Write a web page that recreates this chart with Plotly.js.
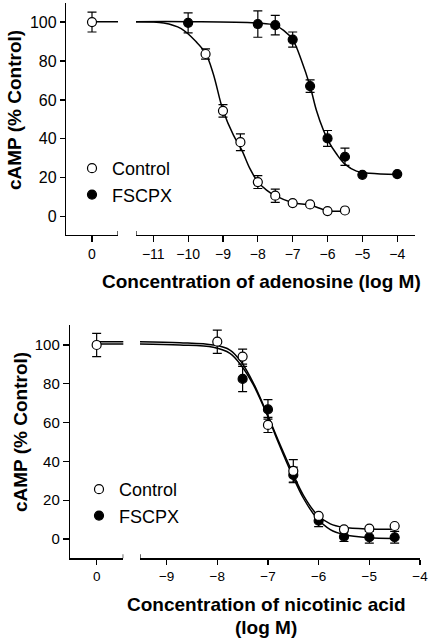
<!DOCTYPE html>
<html>
<head>
<meta charset="utf-8">
<script src="https://cdn.plot.ly/plotly-3.0.1.min.js"></script>
<style>html,body{margin:0;padding:0;background:#fff;}#chart{width:429px;height:640px;}</style>
</head>
<body>
<div id="chart"></div>
<script>
// ---------- DATA: top panel (adenosine) ----------
const adoTickVals = [-11, -10, -9, -8, -7, -6, -5, -4];
const zeroTickVals = [0];
const yTickVals = [0, 20, 40, 60, 80, 100];

const adoCtrlZeroX = [0];
const adoCtrlZeroY = [100];
const adoCtrlZeroErr = [5.1];

const adoCtrlX = [-9.5, -9, -8.5, -8, -7.5, -7, -6.5, -6, -5.5];
const adoCtrlY = [83.6, 54.4, 38.3, 17.8, 10.8, 7.0, 6.3, 2.9, 3.2];
const adoCtrlErr = [2.6, 3.2, 4.3, 3.3, 3.4, 0, 0, 0, 0];

const adoFscX = [-10, -8, -7.5, -7, -6.5, -6, -5.5, -5, -4];
const adoFscY = [99.6, 99.0, 98.4, 91.0, 67.1, 40.2, 30.8, 21.5, 21.9];
const adoFscErr = [5.1, 6.8, 5.0, 3.9, 3.2, 4.1, 4.4, 0, 0];

// fitted curves
const adoCtrlCurveX = [-11.5, -10.7, -10.2, -9.76, -9.5, -9.28, -9.0, -8.7, -8.46, -8.23, -8.0, -7.75, -7.5, -7.0, -6.5, -6.0, -5.5];
const adoCtrlCurveY = [100.2, 99.5, 96.6, 89.7, 84.0, 73.5, 54.7, 41.9, 34.2, 24.8, 17.9, 13.7, 10.8, 7.2, 6.0, 3.1, 2.9];
const adoFscCurveX = [-11.5, -10, -8, -7.5, -7.26, -7.0, -6.75, -6.5, -6.32, -6.12, -5.98, -5.74, -5.5, -5.17, -4.79, -4.0];
const adoFscCurveY = [100.2, 100.2, 99.5, 98.3, 95.7, 91.0, 80.4, 67.0, 54.7, 44.5, 39.0, 32.2, 27.0, 23.4, 22.3, 21.7];
const adoZeroLineX = [0, 1];
const adoZeroLineY = [100.2, 100.2];

// ---------- DATA: bottom panel (nicotinic acid) ----------
const nicTickVals = [-9, -8, -7, -6, -5, -4];

const nicCtrlZeroX = [0];
const nicCtrlZeroY = [100];
const nicCtrlZeroErr = [6];

const nicCtrlX = [-8, -7.5, -7, -6.5, -6, -5.5, -5, -4.5];
const nicCtrlY = [101.7, 94.0, 58.8, 35.1, 11.9, 5.0, 5.3, 6.7];
const nicCtrlErr = [6, 3.9, 3.9, 5.8, 0, 0, 0, 0];

const nicFscX = [-7.5, -7, -6.5, -6, -5.5, -5, -4.5];
const nicFscY = [82.5, 66.8, 33.0, 9.4, 1.2, 0.9, 0.9];
const nicFscErr = [6.5, 5.0, 4.0, 3.0, 2.5, 3.0, 3.0];

const nicCurveX = [-9.53, -8.74, -8.08, -7.75, -7.52, -7.29, -7.0, -6.8, -6.53, -6.3, -6.04, -5.77, -5.51, -5.0, -4.5];
const nicCtrlCurveY = [101.7, 101.2, 100.0, 97.4, 91.0, 80.5, 63.5, 51.0, 35.0, 22.5, 12.8, 7.8, 6.0, 5.1, 5.0];
const nicFscCurveY = [100.5, 100.0, 98.8, 95.7, 89.2, 79.5, 63.0, 50.0, 33.5, 21.0, 10.9, 4.8, 2.3, 0.6, 0.3];
const nicZeroLineX = [0, 1];
const nicCtrlZeroLineY = [101.7, 101.7];
const nicFscZeroLineY = [100.5, 100.5];

// ---------- STYLE ----------
const W = 429, H = 640;
const FONT = 'Arial, "Liberation Sans", sans-serif';
const px = v => v / W;
const py = v => 1 - v / H;

const openMarker = {symbol: 'circle', size: 9, color: 'white', line: {color: 'black', width: 1.2}};
const fillMarker = {symbol: 'circle', size: 9, color: 'black', line: {color: 'black', width: 1.2}};
const errStyle = arr => ({type: 'data', array: arr, visible: true, color: 'black', thickness: 1.2, width: 4.5});
const curveLine = {color: 'black', width: 1.5, shape: 'spline', smoothing: 1};

function line(x, y, xa, ya) {
  return {x, y, xaxis: xa, yaxis: ya, mode: 'lines', line: curveLine, showlegend: false, hoverinfo: 'skip'};
}
function pts(x, y, err, marker, xa, ya, name, legend, show) {
  return {x, y, xaxis: xa, yaxis: ya, mode: 'markers', marker, error_y: errStyle(err),
          name, legend, showlegend: show, cliponaxis: false, hoverinfo: 'skip'};
}

const traces = [
  // top
  line(adoZeroLineX, adoZeroLineY, 'x', 'y'),
  line(adoCtrlCurveX, adoCtrlCurveY, 'x2', 'y'),
  line(adoFscCurveX, adoFscCurveY, 'x2', 'y'),
  pts(adoCtrlZeroX, adoCtrlZeroY, adoCtrlZeroErr, openMarker, 'x', 'y', 'Control', 'legend', false),
  pts(adoCtrlX, adoCtrlY, adoCtrlErr, openMarker, 'x2', 'y', 'Control', 'legend', true),
  pts(adoFscX, adoFscY, adoFscErr, fillMarker, 'x2', 'y', 'FSCPX', 'legend', true),
  // bottom
  line(nicZeroLineX, nicCtrlZeroLineY, 'x3', 'y2'),
  line(nicZeroLineX, nicFscZeroLineY, 'x3', 'y2'),
  line(nicCurveX, nicCtrlCurveY, 'x4', 'y2'),
  line(nicCurveX, nicFscCurveY, 'x4', 'y2'),
  pts(nicCtrlZeroX, nicCtrlZeroY, nicCtrlZeroErr, openMarker, 'x3', 'y2', 'Control', 'legend2', false),
  pts(nicFscX, nicFscY, nicFscErr, fillMarker, 'x4', 'y2', 'FSCPX', 'legend2', false),
  pts(nicCtrlX, nicCtrlY, nicCtrlErr, openMarker, 'x4', 'y2', 'Control', 'legend2', true),
  // legend-only entry for bottom FSCPX (keeps legend order Control, FSCPX)
  {x: [null], y: [null], xaxis: 'x4', yaxis: 'y2', mode: 'markers', marker: fillMarker, name: 'FSCPX', legend: 'legend2', showlegend: true, hoverinfo: 'skip'}
];

const axBase = {
  showline: true, linecolor: 'black', linewidth: 1.2, ticks: 'outside', ticklen: 6, tickwidth: 1.2,
  tickcolor: 'black', showgrid: false, zeroline: false, tickfont: {family: FONT, size: 14, color: 'black'},
  fixedrange: true, tickmode: 'array'
};
const axBottom = Object.assign({}, axBase, {ticklen: 5, tickfont: {family: FONT, size: 13.5, color: 'black'}});
const yTop = Object.assign({}, axBase, {ticklen: 5, tickfont: {family: FONT, size: 16, color: 'black'}, tickvals: yTickVals});
const yBot = Object.assign({}, axBase, {ticklen: 6, tickfont: {family: FONT, size: 15, color: 'black'}, tickvals: yTickVals});

const r1 = [-0.745, 0.745], r2 = [-11.496, -3.49];
const r3 = [-0.527, 0.527], r4 = [-9.525, -4];
const yr1 = [-9.4, 109.8], yr2 = [-9.95, 110.3];

function breakTick(xref, yref, xv, yv) {
  return {type: 'line', xref, yref, x0: xv, x1: xv, ysizemode: 'pixel', yanchor: yv, y0: -4, y1: 4,
          line: {color: 'black', width: 1.2}};
}

const titleFont = {family: FONT, size: 19, weight: 'bold', color: 'black'};
function ann(text, x, y, angle) {
  const a = {text, xref: 'paper', yref: 'paper', x: px(x), y: py(y), xanchor: 'center', yanchor: 'middle',
             showarrow: false, font: titleFont};
  if (angle) a.textangle = angle;
  return a;
}

const layout = {
  width: W, height: H,
  margin: {l: 0, r: 0, t: 0, b: 0},
  paper_bgcolor: 'white', plot_bgcolor: 'rgba(0,0,0,0)',
  font: {family: FONT, color: 'black'},
  xaxis: Object.assign({}, axBase, {domain: [px(66), px(118)], range: r1, anchor: 'y', tickvals: zeroTickVals}),
  xaxis2: Object.assign({}, axBase, {domain: [px(136), px(415)], range: r2, anchor: 'y', tickvals: adoTickVals}),
  yaxis: Object.assign({}, yTop, {domain: [py(235), py(3)], range: yr1, anchor: 'x'}),
  xaxis3: Object.assign({}, axBottom, {domain: [px(70), px(123.3)], range: r3, anchor: 'y2', tickvals: zeroTickVals}),
  xaxis4: Object.assign({}, axBottom, {domain: [px(140), px(420)], range: r4, anchor: 'y2', tickvals: nicTickVals}),
  yaxis2: Object.assign({}, yBot, {domain: [py(558.3), py(325)], range: yr2, anchor: 'x3'}),
  shapes: [
    breakTick('x', 'y', r1[1], yr1[0]),
    breakTick('x2', 'y', r2[0], yr1[0]),
    breakTick('x3', 'y2', r3[1], yr2[0]),
    breakTick('x4', 'y2', r4[0], yr2[0])
  ],
  legend: {x: px(72), y: py(150), xanchor: 'left', yanchor: 'top', bgcolor: 'rgba(0,0,0,0)',
           font: {family: FONT, size: 18, color: 'black'}, tracegroupgap: 0, itemclick: false},
  legend2: {x: px(79), y: py(471), xanchor: 'left', yanchor: 'top', bgcolor: 'rgba(0,0,0,0)',
            font: {family: FONT, size: 18, color: 'black'}, tracegroupgap: 0, itemclick: false},
  annotations: [
    ann('Concentration of adenosine (log M)', 261.5, 281),
    ann('cAMP (% Control)', 14, 110, -90),
    ann('Concentration of nicotinic acid', 266, 604),
    ann('(log M)', 266, 627),
    ann('cAMP (% Control)', 20, 432, -90)
  ],
  showlegend: true
};

Plotly.newPlot('chart', traces, layout, {displayModeBar: false, staticPlot: true});
</script>
</body>
</html>
